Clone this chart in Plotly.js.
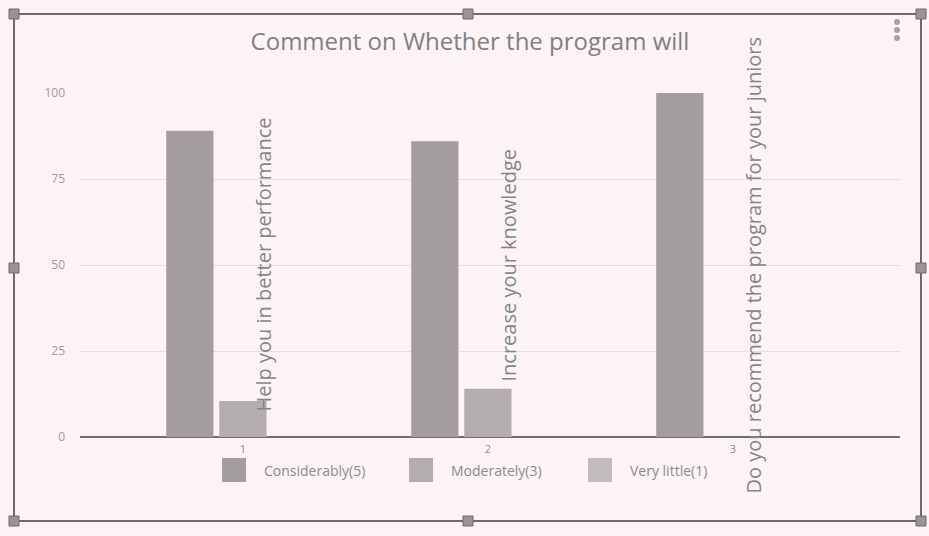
<!DOCTYPE html>
<html>
<head>
<meta charset="utf-8">
<script src="https://cdn.plot.ly/plotly-3.0.1.min.js"></script>
<style>html,body{margin:0;padding:0;background:#fcf3f7;}#chart{width:929px;height:536px;}</style>
</head>
<body>
<div id="chart"></div>
<script>
// ---- data ----
const categories = [1, 2, 3];
const questionLabels = [
  "Help you in better performance",
  "Increase your knowledge",
  "Do you recommend the program for your juniors"
];
const seriesNames = ["Considerably(5)", "Moderately(3)", "Very little(1)"];
const considerably = [89, 86, 100];
const moderately = [10.5, 14, 0];
const veryLittle = [0, 0, 0];
const yTicks = [0, 25, 50, 75, 100];
const chartTitle = "Comment on Whether the program will";

// ---- styling ----
const colors = ["#a39da1", "#b3adb1", "#c2bcc0"];
const seriesValues = [considerably, moderately, veryLittle];

const traces = seriesValues.map((vals, i) => ({
  type: "bar",
  x: categories,
  y: vals,
  name: seriesNames[i],
  marker: {color: colors[i]},
  showlegend: false,
  hoverinfo: "none"
}));

const annotations = [];
questionLabels.forEach((q, i) => {
  annotations.push({
    xref: "x", yref: "y", x: categories[i] + 0.08, y: 50,
    text: q, textangle: -90, showarrow: false,
    font: {family: "Open Sans", size: 20, color: "#858585"},
    xanchor: "center", yanchor: "middle"
  });
});

function px2paperX(p) { return (p - 80) / 820; }
function px2paperY(p) { return (437 - p) / 344; }

// custom legend (big square swatches) built from series names
const shapes = [];
const legendSwatchX = [222, 409, 588];
legendSwatchX.forEach((sx, i) => {
  shapes.push({type: "rect", xref: "paper", yref: "paper",
    x0: px2paperX(sx), x1: px2paperX(sx + 24),
    y0: px2paperY(458), y1: px2paperY(482),
    fillcolor: colors[i], line: {width: 0}});
  annotations.push({xref: "paper", yref: "paper",
    x: px2paperX(sx + 40), y: px2paperY(470),
    xanchor: "left", yanchor: "middle", showarrow: false,
    text: seriesNames[i], font: {family: "Open Sans", size: 14, color: "#8e8a8c"}});
});

// selection frame and handles
const frame = {l: 14, r: 921, t: 14, b: 521};
[[frame.l, frame.t, frame.r, frame.t], [frame.l, frame.b, frame.r, frame.b],
 [frame.l, frame.t, frame.l, frame.b], [frame.r, frame.t, frame.r, frame.b]].forEach(s => {
  shapes.push({type: "line", xref: "paper", yref: "paper",
    x0: px2paperX(s[0]), y0: px2paperY(s[1]), x1: px2paperX(s[2]), y1: px2paperY(s[3]),
    line: {color: "#6f6a6d", width: 2}});
});
const handles = [[frame.l, frame.t], [468, frame.t], [frame.r, frame.t],
  [frame.l, 268], [frame.r, 268],
  [frame.l, frame.b], [468, frame.b], [frame.r, frame.b]];
handles.forEach(h => {
  shapes.push({type: "rect", xref: "paper", yref: "paper",
    x0: px2paperX(h[0] - 5), x1: px2paperX(h[0] + 5),
    y0: px2paperY(h[1] - 5), y1: px2paperY(h[1] + 5),
    fillcolor: "#9a9497", line: {color: "#6f6a6d", width: 1}});
});
// three-dot menu
[22, 30, 38].forEach(cy => {
  shapes.push({type: "circle", xref: "paper", yref: "paper",
    x0: px2paperX(894), x1: px2paperX(900),
    y0: px2paperY(cy - 3), y1: px2paperY(cy + 3),
    fillcolor: "#a8a3a6", line: {width: 0}});
});

const layout = {
  width: 929, height: 536,
  paper_bgcolor: "#fcf3f7", plot_bgcolor: "#fcf3f7",
  margin: {l: 80, r: 29, t: 93, b: 99},
  title: {text: chartTitle, x: 470 / 929, xref: "container", xanchor: "center",
    y: 1 - 42 / 536, yref: "container", yanchor: "middle",
    font: {family: "Open Sans", size: 24, color: "#808080"}},
  barmode: "group", bargap: 0.35, bargroupgap: 0.11,
  xaxis: {range: [0.335, 3.682], tickvals: categories, ticktext: categories.map(String),
    showgrid: false, zeroline: false, showline: false, ticks: "",
    ticklabelstandoff: 4,
    tickfont: {family: "Open Sans", size: 11, color: "#8f8f8f"}, fixedrange: true},
  yaxis: {range: [0, 100], tickvals: yTicks, showgrid: true, gridcolor: "#e9dde3", gridwidth: 1,
    zeroline: true, zerolinecolor: "#6f6f6f", zerolinewidth: 2, showline: false, ticks: "",
    ticklabelstandoff: 14,
    tickfont: {family: "Open Sans", size: 12, color: "#a09a9d"}, fixedrange: true},
  shapes: shapes,
  annotations: annotations
};

Plotly.newPlot("chart", traces, layout, {displayModeBar: false, staticPlot: true});
</script>
</body>
</html>
